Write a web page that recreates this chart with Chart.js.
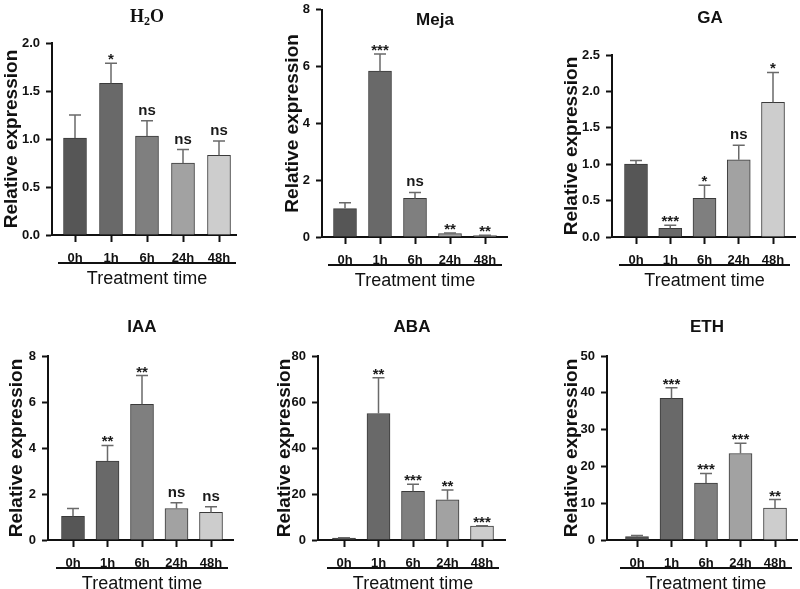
<!DOCTYPE html>
<html>
<head>
<meta charset="utf-8">
<script src="https://cdn.jsdelivr.net/npm/chart.js@4/dist/chart.umd.min.js"></script>
<style>
  html, body { margin:0; padding:0; background:#fff; }
  #wrap { position:relative; width:800px; height:589px; overflow:hidden; background:#fff; }
  #wrap canvas { position:absolute; }
</style>
</head>
<body>
<div id="wrap"></div>
<script>
// data (mean, and top of error bar minus mean)
const timeLabels = ['0h', '1h', '6h', '24h', '48h'];

const h2oMean = [1.01, 1.58, 1.03, 0.75, 0.83];
const h2oSd   = [0.24, 0.21, 0.16, 0.14, 0.15];
const h2oSig  = ['', '*', 'ns', 'ns', 'ns'];

const mejaMean = [1.0, 5.84, 1.36, 0.12, 0.05];
const mejaSd   = [0.21, 0.6, 0.21, 0.02, 0.015];
const mejaSig  = ['', '***', 'ns', '**', '**'];

const gaMean = [1.0, 0.12, 0.53, 1.06, 1.85];
const gaSd   = [0.05, 0.04, 0.18, 0.2, 0.41];
const gaSig  = ['', '***', '*', 'ns', '*'];

const iaaMean = [1.03, 3.43, 5.9, 1.37, 1.2];
const iaaSd   = [0.34, 0.68, 1.25, 0.25, 0.25];
const iaaSig  = ['', '**', '**', 'ns', 'ns'];

const abaMean = [0.8, 55, 21.2, 17.5, 6.0];
const abaSd   = [0.2, 15.5, 3.0, 4.2, 0.2];
const abaSig  = ['', '**', '***', '**', '***'];

const ethMean = [0.9, 38.5, 15.5, 23.5, 8.7];
const ethSd   = [0.3, 2.9, 2.6, 2.8, 2.3];
const ethSig  = ['', '***', '***', '***', '**'];

const panelTitles = ['H2O', 'Meja', 'GA', 'IAA', 'ABA', 'ETH'];
const yMaxes = [2.0, 8, 2.5, 8, 80, 50];
const ySteps = [0.5, 2, 0.5, 2, 20, 10];

const means = [h2oMean, mejaMean, gaMean, iaaMean, abaMean, ethMean];
const sds = [h2oSd, mejaSd, gaSd, iaaSd, abaSd, ethSd];
const sigs = [h2oSig, mejaSig, gaSig, iaaSig, abaSig, ethSig];

// layout (page pixels)
const W = 268, H = 294;
const layouts = [
  {cx:0,   cy:0,   left:52,  top:43,  right:236, bottom:235, first:75,  last:219, tx:147, ty:17,  yx:12},
  {cx:266, cy:-4,  left:322, top:6,   right:507, bottom:237, first:345, last:485, tx:435, ty:20,  yx:293},
  {cx:532, cy:0,   left:612, top:55,  right:795, bottom:237, first:636, last:773, tx:710, ty:18,  yx:572},
  {cx:0,   cy:295, left:48,  top:356, right:233, bottom:540, first:73,  last:211, tx:142, ty:327, yx:17},
  {cx:266, cy:295, left:318, top:356, right:505, bottom:540, first:344, last:482, tx:412, ty:327, yx:285},
  {cx:532, cy:295, left:607, top:356, right:797, bottom:540, first:637, last:775, tx:707, ty:327, yx:572}
];

const barColors = ['#565656', '#696969', '#7f7f7f', '#a2a2a2', '#cdcdcd'];
const SANS = '"Liberation Sans", Arial, sans-serif';
const SERIF = '"Liberation Serif", "Times New Roman", serif';

function drawTitle(ctx, text, x, y){
  ctx.save();
  ctx.fillStyle = '#111';
  ctx.textBaseline = 'middle';
  if(text === 'H2O'){
    ctx.font = 'bold 18px ' + SERIF;
    const wH = ctx.measureText('H').width, wO = ctx.measureText('O').width;
    ctx.font = 'bold 12px ' + SERIF;
    const w2 = ctx.measureText('2').width;
    let px = x - (wH + w2 + wO) / 2;
    ctx.textAlign = 'left';
    ctx.font = 'bold 18px ' + SERIF;
    ctx.fillText('H', px, y); px += wH;
    ctx.font = 'bold 12px ' + SERIF;
    ctx.fillText('2', px, y + 5); px += w2;
    ctx.font = 'bold 18px ' + SERIF;
    ctx.fillText('O', px, y);
  } else {
    ctx.textAlign = 'center';
    ctx.font = 'bold 17px ' + SANS;
    ctx.fillText(text, x, y);
  }
  ctx.restore();
}

function makePanel(p){
  const L = layouts[p];
  const canvas = document.createElement('canvas');
  canvas.width = W; canvas.height = H;
  canvas.style.left = L.cx + 'px';
  canvas.style.top = L.cy + 'px';
  canvas.style.width = W + 'px';
  canvas.style.height = H + 'px';
  document.getElementById('wrap').appendChild(canvas);

  const unit = (L.last - L.first) / 4;
  const xMin = -(L.first - L.left) / unit;
  const xMax = 4 + (L.right - L.last) / unit;
  const dec = ySteps[p] < 1 ? 1 : 0;

  const extras = {
    id: 'extras' + p,
    afterDatasetsDraw(chart){
      const ctx = chart.ctx;
      const xs = chart.scales.x, ys = chart.scales.y;
      ctx.save();
      means[p].forEach((m, i) => {
        const x = xs.getPixelForValue(i);
        const yb = ys.getPixelForValue(m);
        const yt = ys.getPixelForValue(m + sds[p][i]);
        ctx.strokeStyle = '#6a6a6a';
        ctx.lineWidth = 1.5;
        ctx.beginPath();
        ctx.moveTo(x, yb); ctx.lineTo(x, yt);
        ctx.moveTo(x - 6, yt); ctx.lineTo(x + 6, yt);
        ctx.stroke();
        const s = sigs[p][i];
        if(s){
          ctx.fillStyle = '#1a1a1a';
          ctx.textAlign = 'center';
          ctx.textBaseline = 'alphabetic';
          ctx.font = 'bold 15px ' + SANS;
          ctx.fillText(s, x, s === 'ns' ? yt - 6 : yt + 1);
        }
      });
      ctx.restore();
    },
    afterDraw(chart){
      const ctx = chart.ctx;
      const xs = chart.scales.x;
      const a = chart.chartArea;
      const x0 = xs.getPixelForValue(0) - 17, x1 = xs.getPixelForValue(4) + 17;
      ctx.save();
      ctx.strokeStyle = '#111';
      ctx.lineWidth = 2;
      ctx.beginPath();
      ctx.moveTo(x0, a.bottom + 28); ctx.lineTo(x1, a.bottom + 28);
      ctx.stroke();
      ctx.fillStyle = '#111';
      ctx.font = '18px ' + SANS;
      ctx.textAlign = 'center';
      ctx.textBaseline = 'middle';
      ctx.fillText('Treatment time', (x0 + x1) / 2, a.bottom + 44);
      // y axis title
      ctx.translate(L.yx - L.cx, (a.top + a.bottom) / 2);
      ctx.rotate(-Math.PI / 2);
      ctx.font = 'bold 19px ' + SANS;
      ctx.fillText('Relative expression', 0, 0);
      ctx.restore();
      drawTitle(ctx, panelTitles[p], L.tx - L.cx, L.ty - L.cy);
    }
  };

  new Chart(canvas, {
    type: 'bar',
    data: {
      datasets: [{
        data: means[p].map((v, i) => ({x: i, y: v})),
        backgroundColor: barColors,
        borderColor: '#3a3a3a',
        borderWidth: 1,
        barThickness: 23
      }]
    },
    options: {
      responsive: false,
      animation: false,
      devicePixelRatio: 1,
      layout: { padding: { top: L.top - L.cy, right: L.cx + W - L.right, left: 0, bottom: 0 } },
      plugins: { legend: { display: false }, tooltip: { enabled: false } },
      scales: {
        x: {
          type: 'linear', min: xMin, max: xMax, offset: false, z: 1,
          grid: { display: true, offset: false, drawOnChartArea: false, tickLength: 7, tickColor: '#111', tickWidth: 2 },
          border: { color: '#111', width: 2 },
          ticks: { stepSize: 1, padding: 9, color: '#111', maxRotation: 0, autoSkip: false,
                   font: { family: SANS, size: 13, weight: 'bold' },
                   callback: v => timeLabels[v] },
          afterBuildTicks: s => { s.ticks = timeLabels.map((t, i) => ({ value: i })); },
          afterFit: s => { s.height = H - (L.bottom - L.cy); }
        },
        y: {
          min: 0, max: yMaxes[p], z: 1,
          grid: { display: true, drawOnChartArea: false, tickLength: 6, tickColor: '#111', tickWidth: 2 },
          border: { color: '#111', width: 2 },
          ticks: { stepSize: ySteps[p], padding: 6, color: '#111',
                   font: { family: SANS, size: 13, weight: 'bold' },
                   callback: v => Number(v).toFixed(dec) },
          afterFit: s => { s.width = L.left - L.cx; }
        }
      }
    },
    plugins: [extras]
  });
}

for(let p = 0; p < 6; p++) makePanel(p);
</script>
</body>
</html>
